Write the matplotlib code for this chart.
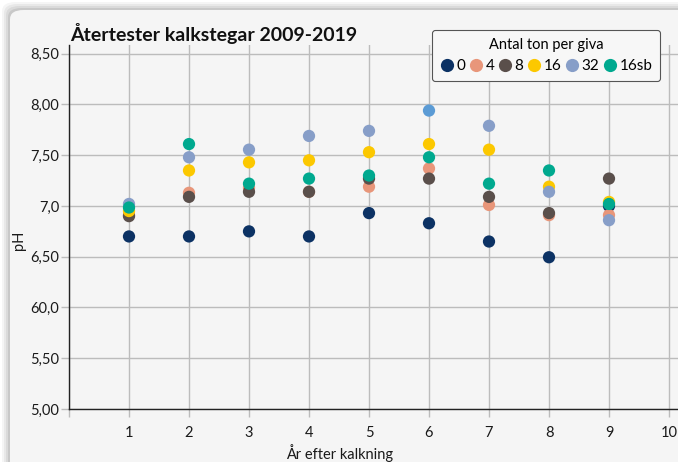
import numpy as np
import matplotlib.pyplot as plt
from matplotlib.patches import FancyBboxPatch
from matplotlib.lines import Line2D

plt.rcParams['font.family'] = ['Lato', 'DejaVu Sans']

years = [1, 2, 3, 4, 5, 6, 7, 8, 9]
series_names = ['0', '4', '8', '16', '32', '16sb']
ph_0 = [6.70, 6.70, 6.75, 6.70, 6.93, 6.83, 6.65, 6.495, 7.00]
ph_4 = [6.91, 7.13, 7.18, 7.14, 7.19, 7.37, 7.01, 6.91, 6.91]
ph_8 = [6.90, 7.09, 7.14, 7.14, 7.27, 7.27, 7.09, 6.93, 7.27]
ph_16 = [6.95, 7.35, 7.43, 7.45, 7.53, 7.61, 7.555, 7.19, 7.04]
ph_32 = [7.02, 7.48, 7.555, 7.69, 7.74, 7.94, 7.79, 7.14, 6.86]
ph_16sb = [6.985, 7.61, 7.22, 7.27, 7.30, 7.48, 7.22, 7.35, 7.02]
colors = ['#0c3264', '#e8967a', '#5a4f4b', '#fcc800', '#879ec8', '#00a98f']

y_ticks = [5.0, 5.5, 6.0, 6.5, 7.0, 7.5, 8.0, 8.5]
y_labels = ['5,00', '5,50', '60,0', '6,50', '7,0', '7,50', '8,00', '8,50']
x_ticks = [0, 1, 2, 3, 4, 5, 6, 7, 8, 9, 10]
x_labels = ['', '1', '2', '3', '4', '5', '6', '7', '8', '9', '10']

W, H = 678, 462
fig = plt.figure(figsize=(W / 100, H / 100), dpi=100)
fig.patch.set_facecolor('white')

# soft shadow + panel
for i, a in enumerate([0.04, 0.05, 0.06, 0.08]):
    off = (4 - i) * 2
    fig.patches.append(FancyBboxPatch(((10 - off) / W, -0.2), 1.2, (H - 10 + off) / H + 0.2,
                                      boxstyle="round,pad=0,rounding_size=0.02",
                                      transform=fig.transFigure, facecolor='black',
                                      edgecolor='none', alpha=a, zorder=-3))
fig.patches.append(FancyBboxPatch((10 / W, -0.2), 1.2, (H - 10) / H + 0.2,
                                  boxstyle="round,pad=0,rounding_size=0.02",
                                  transform=fig.transFigure, facecolor='#f5f5f5',
                                  edgecolor='none', zorder=-2))

ax = fig.add_axes([69 / W, 1 - 409 / H, 1 - 69 / W, (409 - 45) / H])
ax.set_facecolor('none')

all_series = [ph_0, ph_4, ph_8, ph_16, ph_32, ph_16sb]
for name, vals, c in zip(series_names, all_series, colors):
    pt_colors = [c] * len(vals)
    if name == '32':
        pt_colors[5] = '#5b9bd5'
    ax.scatter(years, vals, s=78, c=pt_colors, edgecolors='none', zorder=3, label=name)

ax.set_xlim(0, 10.15)
ax.set_ylim(5.0, 8.586)
ax.set_xticks(x_ticks)
ax.set_xticklabels(x_labels)
ax.set_yticks(y_ticks)
ax.set_yticklabels(y_labels)
ax.grid(True, color='#bcbcbc', linewidth=1.0)
ax.set_axisbelow(True)
ax.tick_params(axis='both', direction='out', length=6, color='#bcbcbc', width=1.0,
               labelsize=10.5, labelcolor='#1a1a1a')
ax.tick_params(axis='x', pad=6)
ax.tick_params(axis='y', pad=1)
for s in ['top', 'right']:
    ax.spines[s].set_visible(False)
for s in ['left', 'bottom']:
    ax.spines[s].set_color('#222222')
    ax.spines[s].set_linewidth(1.0)

fig.text(70 / W, 1 - 33 / H, 'Återtester kalkstegar 2009-2019', fontsize=14,
         fontweight='bold', color='#111111', va='center', ha='left')
fig.text(340 / W, 1 - 453 / H, 'År efter kalkning', fontsize=10.5, color='#1a1a1a',
         ha='center', va='center')
fig.text(19 / W, 1 - 240 / H, 'pH', fontsize=10.5, color='#1a1a1a', rotation=90,
         ha='center', va='center')

handles = [Line2D([], [], marker='o', linestyle='none', markersize=9.5,
                  markerfacecolor=c, markeredgecolor='none') for c in colors]
leg = ax.legend(handles, series_names, title='Antal ton per giva', ncol=6,
                loc='upper left', bbox_to_anchor=(432 / W, 1 - 30 / H),
                bbox_transform=fig.transFigure, fontsize=11, title_fontsize=10.5,
                handletextpad=0.1, columnspacing=0.22, handlelength=1.0,
                borderpad=0.5, borderaxespad=0, frameon=True, fancybox=True,
                framealpha=1)
leg.get_frame().set_facecolor('#f7f7f7')
leg.get_frame().set_edgecolor('#555555')
leg.get_frame().set_linewidth(0.8)

fig.savefig('out.png', dpi=100, facecolor=fig.get_facecolor())
